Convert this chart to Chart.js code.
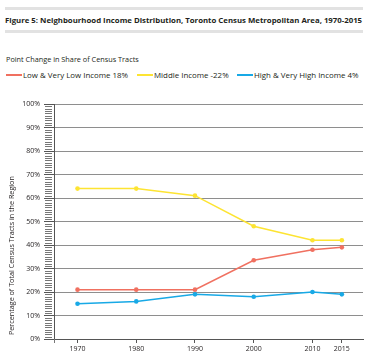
<!DOCTYPE html>
<html>
<head>
<meta charset="utf-8">
<script src="https://cdn.jsdelivr.net/npm/chart.js@4"></script>
<style>
  html, body { margin: 0; padding: 0; background: #fff; }
  body { width: 371px; height: 363px; position: relative; overflow: hidden; font-family: "Open Sans", sans-serif; color: #231f20; }
  .band { position: absolute; left: 5px; width: 358px; height: 3px; background: #e2e2e2; }
  #title { position: absolute; left: 5px; top: 14px; font-size: 7.8px; line-height: 12px; font-weight: bold; white-space: nowrap; }
  #sub { position: absolute; left: 6px; top: 53px; font-size: 7.3px; line-height: 12px; white-space: nowrap; }
  #legend { position: absolute; left: 6px; top: 69px; font-size: 7.9px; line-height: 12px; white-space: nowrap; }
  #legend span.item { position: absolute; top: 0; }
  #legend i { display: inline-block; width: 16px; height: 2px; vertical-align: middle; margin-right: 1px; position: relative; top: -1px; }
  #wrap { position: absolute; left: 0; top: 0; width: 371px; height: 363px; }
</style>
</head>
<body>
<div class="band" style="top:7px"></div>
<div id="title">Figure 5: Neighbourhood Income Distribution, Toronto Census Metropolitan Area, 1970-2015</div>
<div class="band" style="top:30px"></div>
<div id="sub">Point Change in Share of Census Tracts</div>
<div id="legend"></div>
<div id="wrap"><canvas id="chart"></canvas></div>
<script>
// data
const years = [1970, 1980, 1990, 2000, 2010, 2015];
const lowIncome = [21, 21, 21, 33.5, 38, 39];
const middleIncome = [64, 64, 61, 48, 42, 42];
const highIncome = [15, 16, 19, 18, 20, 19];
const seriesNames = ['Low & Very Low Income 18%', 'Middle Income -22%', 'High & Very High Income 4%'];
const seriesColors = ['#f07060', '#fde432', '#18a9e6'];
const yTicks = [0, 10, 20, 30, 40, 50, 60, 70, 80, 90, 100];

// legend (html)
const legendX = [0, 131, 231];
const legend = document.getElementById('legend');
seriesNames.forEach((name, i) => {
    const s = document.createElement('span');
    s.className = 'item';
    s.style.left = legendX[i] + 'px';
    s.innerHTML = '<i style="background:' + seriesColors[i] + '"></i>' + name.replace('&', '&amp;');
    legend.appendChild(s);
});

const toPoints = (vals) => vals.map((v, i) => ({ x: years[i], y: v }));
const mkSet = (label, vals, color) => ({
    label: label,
    data: toPoints(vals),
    borderColor: color,
    backgroundColor: color,
    borderWidth: 1.5,
    pointRadius: 2.3,
    pointBorderWidth: 0,
    tension: 0
});

const tickFont = { family: '"Open Sans", sans-serif', size: 7 };

// minor ticks on the y axis + axis title
const extras = {
    id: 'extras',
    afterDraw(chart) {
        const { ctx, chartArea } = chart;
        const y = chart.scales.y;
        ctx.save();
        ctx.strokeStyle = '#777';
        ctx.lineWidth = 1;
        ctx.beginPath();
        for (let v = 1; v < 100; v++) {
            if (v % 10 === 0) continue;
            const py = Math.round(y.getPixelForValue(v)) + 0.5;
            ctx.moveTo(chartArea.left - 9, py);
            ctx.lineTo(chartArea.left - 2, py);
        }
        // axis stub below zero
        ctx.moveTo(chartArea.left + 0.5, chartArea.bottom);
        ctx.lineTo(chartArea.left + 0.5, chartArea.bottom + 4);
        ctx.stroke();

        ctx.translate(12, chartArea.bottom - 4);
        ctx.rotate(-Math.PI / 2);
        ctx.fillStyle = '#231f20';
        ctx.font = '7.2px "Open Sans", sans-serif';
        ctx.textAlign = 'left';
        ctx.textBaseline = 'middle';
        ctx.fillText('Percentage of Total Census Tracts in the Region', 0, 0);
        ctx.restore();
    }
};

new Chart(document.getElementById('chart'), {
    type: 'line',
    data: {
        datasets: [
            mkSet(seriesNames[0], lowIncome, seriesColors[0]),
            mkSet(seriesNames[1], middleIncome, seriesColors[1]),
            mkSet(seriesNames[2], highIncome, seriesColors[2])
        ]
    },
    options: {
        responsive: true,
        maintainAspectRatio: false,
        animation: false,
        layout: { padding: { top: 104, right: 8, left: 0, bottom: 0 } },
        plugins: { legend: { display: false }, tooltip: { enabled: false } },
        scales: {
            x: {
                type: 'linear',
                min: 1966,
                max: 2018.6,
                afterBuildTicks: (s) => { s.ticks = years.map(v => ({ value: v })); },
                afterFit: (s) => { s.height = 24; },
                grid: { drawOnChartArea: false, drawTicks: true, tickLength: 4, tickColor: '#555' },
                border: { color: '#555', width: 1 },
                ticks: { font: tickFont, color: '#231f20', padding: 2, maxRotation: 0, callback: (v) => String(v) }
            },
            y: {
                min: 0,
                max: 100,
                afterBuildTicks: (s) => { s.ticks = yTicks.map(v => ({ value: v })); },
                afterFit: (s) => { s.width = 54; },
                grid: { color: '#8e8e8e', lineWidth: 1, tickLength: 10, tickColor: '#555' },
                border: { color: '#555', width: 1 },
                ticks: { font: tickFont, color: '#231f20', padding: 4, callback: (v) => v + '%' }
            }
        }
    },
    plugins: [extras]
});
</script>
</body>
</html>
